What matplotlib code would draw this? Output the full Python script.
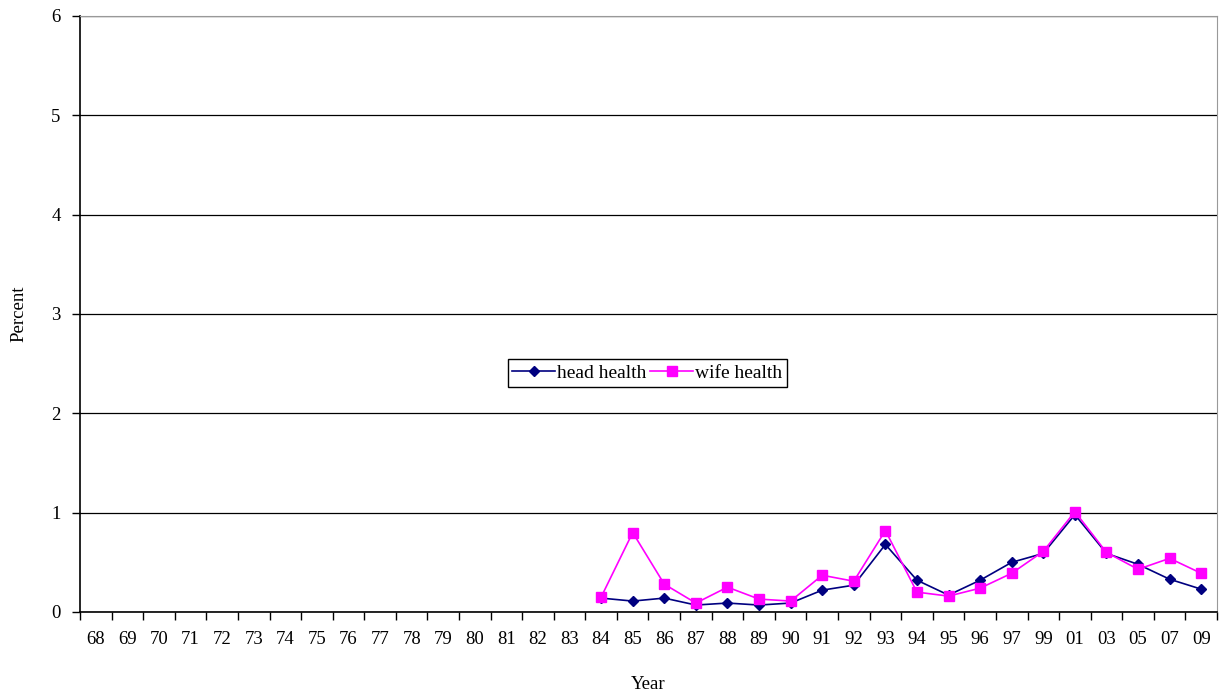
import matplotlib
matplotlib.use("Agg")
import matplotlib.pyplot as plt
import numpy as np

plt.rcParams['font.family'] = ['Liberation Serif', 'DejaVu Serif']

years = [str(y) for y in range(68, 98)] + ["99", "01", "03", "05", "07", "09"]
data_years = ["84", "85", "86", "87", "88", "89", "90", "91", "92", "93", "94", "95",
              "96", "97", "99", "01", "03", "05", "07", "09"]
head_health = [0.14, 0.11, 0.14, 0.07, 0.09, 0.07, 0.09, 0.22, 0.27, 0.68, 0.32, 0.17,
               0.32, 0.50, 0.59, 0.98, 0.59, 0.48, 0.33, 0.23]
wife_health = [0.15, 0.80, 0.28, 0.09, 0.25, 0.13, 0.11, 0.37, 0.31, 0.82, 0.20, 0.16,
               0.24, 0.39, 0.61, 1.01, 0.60, 0.43, 0.54, 0.39]

fig = plt.figure(figsize=(12.22, 7.0), dpi=100)
ax = fig.add_axes([80/1222, 1-612/700, 1137/1222, 596/700])

idx = [years.index(y) for y in data_years]
ax.plot(idx, head_health, color='#000080', marker='D', markersize=5.5, linewidth=1.2,
        label='head health', zorder=3)
ax.plot(idx, wife_health, color='#FF00FF', marker='s', markersize=7.5, linewidth=1.2,
        label='wife health', zorder=3)

ax.set_xlim(-0.5, len(years) - 0.5)
ax.set_ylim(0, 6)
ax.set_yticks(range(0, 7))
ax.set_xticks(range(len(years)))
ax.set_xticklabels(years)
ax.set_xticks(np.arange(-0.5, len(years), 1), minor=True)
ax.tick_params(axis='x', which='major', length=0, pad=14, labelsize=13.5)
ax.tick_params(axis='x', which='minor', length=6, direction='out', width=1)
ax.tick_params(axis='y', length=6, direction='out', width=1, labelsize=13.5, pad=8)

ax.yaxis.grid(True, color='black', linewidth=0.9)
ax.set_axisbelow(True)
for s in ['top', 'right']:
    ax.spines[s].set_color('#999999')
for s in ['left', 'bottom']:
    ax.spines[s].set_color('black')
    ax.spines[s].set_linewidth(1.2)

ax.set_xlabel('Year', fontsize=13.5, labelpad=20)
ax.set_ylabel('Percent', fontsize=13.5, labelpad=17)

leg = ax.legend(loc='center', bbox_to_anchor=(0.499, 0.401), ncol=2, fontsize=14,
                frameon=True, fancybox=False, edgecolor='black', framealpha=1,
                handlelength=2.2, handletextpad=0.1, columnspacing=0.2,
                borderpad=0.25, borderaxespad=0)
leg.get_frame().set_linewidth(1.0)

fig.savefig('out.png', dpi=100)
